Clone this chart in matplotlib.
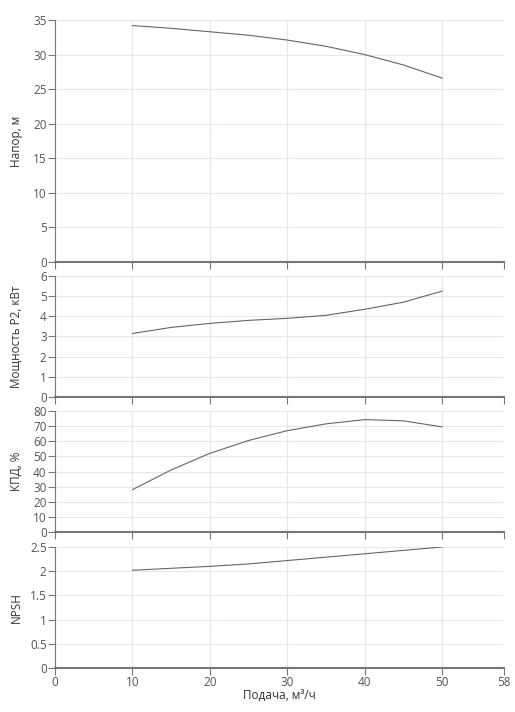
import matplotlib
matplotlib.use("Agg")
import matplotlib.pyplot as plt

plt.rcParams['font.family'] = ['Open Sans', 'DejaVu Sans']

flow = [10, 15, 20, 25, 30, 35, 40, 45, 50]
head = [34.2, 33.8, 33.3, 32.8, 32.1, 31.2, 30.0, 28.5, 26.6]
power = [3.15, 3.45, 3.65, 3.8, 3.9, 4.05, 4.35, 4.7, 5.25]
eff = [28, 41, 52, 60.5, 67, 71.5, 74.3, 73.5, 69.5]
npsh = [2.02, 2.06, 2.1, 2.15, 2.22, 2.29, 2.36, 2.43, 2.5]
xticks = [0, 10, 20, 30, 40, 50, 58]

panels = [
    (head, 'Напор, м', 35, [0, 5, 10, 15, 20, 25, 30, 35], (20, 262)),
    (power, 'Мощность P2, кВт', 6, [0, 1, 2, 3, 4, 5, 6], (276, 397)),
    (eff, 'КПД, %', 80, [0, 10, 20, 30, 40, 50, 60, 70, 80], (411, 532)),
    (npsh, 'NPSH', 2.5, [0, 0.5, 1, 1.5, 2, 2.5], (547, 668)),
]

fig = plt.figure(figsize=(5.15, 7.12), dpi=100)
W, H = 515, 712
for i, (vals, lab, ymax, yt, (t, b)) in enumerate(panels):
    ax = fig.add_axes([55 / W, 1 - b / H, 449 / W, (b - t) / H])
    ax.plot(flow, vals, color='#666666', lw=0.8)
    ax.set_xlim(0, 58)
    ax.set_ylim(0, ymax)
    ax.set_xticks(xticks)
    ax.set_yticks(yt)
    ax.set_yticklabels([('%g' % v) for v in yt])
    ax.grid(True, color='#e6e6ef', lw=0.8)
    ax.set_axisbelow(True)
    for s in ['top', 'right']:
        ax.spines[s].set_visible(False)
    for s in ['left', 'bottom']:
        ax.spines[s].set_color('#777777')
    ax.spines['bottom'].set_linewidth(1.5)
    ax.tick_params(axis='y', length=5, color='#777777', labelcolor='#555555', labelsize=8.5, pad=1)
    ax.tick_params(axis='x', length=5, color='#777777', labelcolor='#555555', labelsize=8.5, pad=1)
    if i < 3:
        ax.set_xticklabels([])
    ax.set_ylabel(lab, fontsize=8.5, color='#333333')
    ax.yaxis.set_label_coords(-0.072, 0.5)
    if i == 3:
        ax.set_xlabel('Подача, м³/ч', fontsize=8.5, color='#333333', labelpad=0)

fig.savefig('out.png', dpi=100)
